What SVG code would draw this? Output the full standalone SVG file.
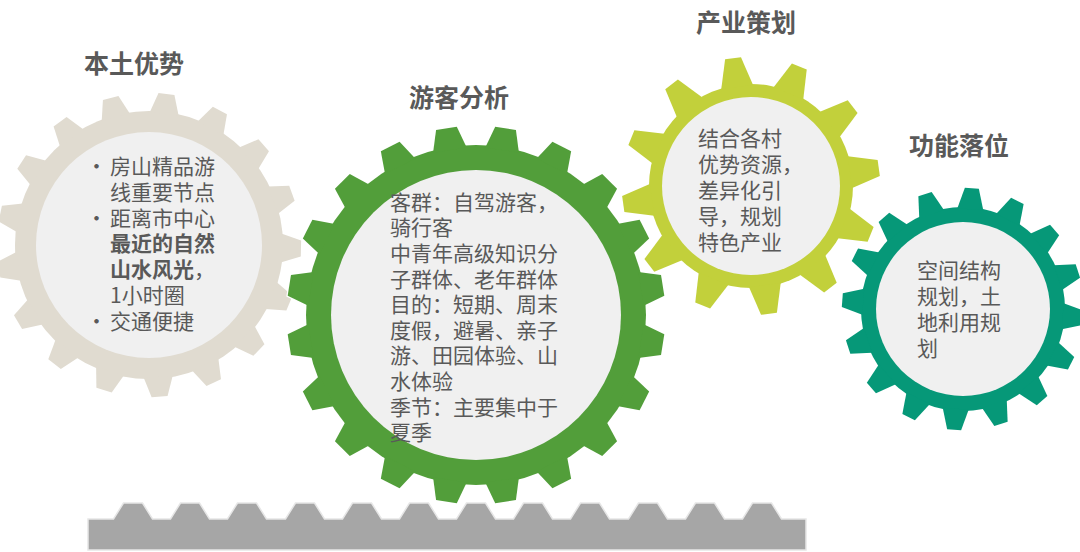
<svg xmlns="http://www.w3.org/2000/svg" xmlns:xlink="http://www.w3.org/1999/xlink" width="1080" height="552" viewBox="0 0 1080 552">
<style>
.title{font-family:"Noto Sans CJK SC","Noto Sans",sans-serif;font-weight:700;font-size:25px;fill:#595959}
.body{font-family:"Noto Sans CJK SC","Noto Sans",sans-serif;font-size:21px;fill:#595959}
.b{font-weight:700}
.hub{fill:#F0F0F0}
.outline{stroke:#FFFFFF;stroke-width:2.5}
</style>
<defs>
<polygon id="tB" points="-14.5,-132 -8,-152 8,-152 14.5,-132"/>
<polygon id="tG" points="-17,-167 -10.5,-189 10.5,-189 17,-167"/>
<polygon id="tY" points="-16,-100 -8,-129 8,-129 16,-100"/>
<polygon id="tT" points="-13,-100 -7,-121 7,-121 13,-100"/>
<g id="gearB">
<circle r="134"/>
<use xlink:href="#tB" transform="rotate(6.6)"/><use xlink:href="#tB" transform="rotate(27.8)"/><use xlink:href="#tB" transform="rotate(49)"/><use xlink:href="#tB" transform="rotate(70.1)"/><use xlink:href="#tB" transform="rotate(91.3)"/><use xlink:href="#tB" transform="rotate(112.5)"/><use xlink:href="#tB" transform="rotate(133.7)"/><use xlink:href="#tB" transform="rotate(154.8)"/><use xlink:href="#tB" transform="rotate(176)"/><use xlink:href="#tB" transform="rotate(197.2)"/><use xlink:href="#tB" transform="rotate(218.4)"/><use xlink:href="#tB" transform="rotate(239.5)"/><use xlink:href="#tB" transform="rotate(260.7)"/><use xlink:href="#tB" transform="rotate(281.9)"/><use xlink:href="#tB" transform="rotate(303.1)"/><use xlink:href="#tB" transform="rotate(324.2)"/><use xlink:href="#tB" transform="rotate(345.4)"/>
</g>
<g id="gearG">
<circle r="170"/>
<use xlink:href="#tG" transform="rotate(9)"/><use xlink:href="#tG" transform="rotate(27)"/><use xlink:href="#tG" transform="rotate(45)"/><use xlink:href="#tG" transform="rotate(63)"/><use xlink:href="#tG" transform="rotate(81)"/><use xlink:href="#tG" transform="rotate(99)"/><use xlink:href="#tG" transform="rotate(117)"/><use xlink:href="#tG" transform="rotate(135)"/><use xlink:href="#tG" transform="rotate(153)"/><use xlink:href="#tG" transform="rotate(171)"/><use xlink:href="#tG" transform="rotate(189)"/><use xlink:href="#tG" transform="rotate(207)"/><use xlink:href="#tG" transform="rotate(225)"/><use xlink:href="#tG" transform="rotate(243)"/><use xlink:href="#tG" transform="rotate(261)"/><use xlink:href="#tG" transform="rotate(279)"/><use xlink:href="#tG" transform="rotate(297)"/><use xlink:href="#tG" transform="rotate(315)"/><use xlink:href="#tG" transform="rotate(333)"/><use xlink:href="#tG" transform="rotate(351)"/>
</g>
<g id="gearY">
<circle r="102"/>
<use xlink:href="#tY" transform="rotate(22)"/><use xlink:href="#tY" transform="rotate(52)"/><use xlink:href="#tY" transform="rotate(82)"/><use xlink:href="#tY" transform="rotate(112)"/><use xlink:href="#tY" transform="rotate(142)"/><use xlink:href="#tY" transform="rotate(172)"/><use xlink:href="#tY" transform="rotate(202)"/><use xlink:href="#tY" transform="rotate(232)"/><use xlink:href="#tY" transform="rotate(262)"/><use xlink:href="#tY" transform="rotate(292)"/><use xlink:href="#tY" transform="rotate(322)"/><use xlink:href="#tY" transform="rotate(352)"/>
</g>
<g id="gearT">
<circle r="102"/>
<use xlink:href="#tT" transform="rotate(4.2)"/><use xlink:href="#tT" transform="rotate(26.7)"/><use xlink:href="#tT" transform="rotate(49.2)"/><use xlink:href="#tT" transform="rotate(71.7)"/><use xlink:href="#tT" transform="rotate(94.2)"/><use xlink:href="#tT" transform="rotate(116.7)"/><use xlink:href="#tT" transform="rotate(139.2)"/><use xlink:href="#tT" transform="rotate(161.7)"/><use xlink:href="#tT" transform="rotate(184.2)"/><use xlink:href="#tT" transform="rotate(206.7)"/><use xlink:href="#tT" transform="rotate(229.2)"/><use xlink:href="#tT" transform="rotate(251.7)"/><use xlink:href="#tT" transform="rotate(274.2)"/><use xlink:href="#tT" transform="rotate(296.7)"/><use xlink:href="#tT" transform="rotate(319.2)"/><use xlink:href="#tT" transform="rotate(341.7)"/>
</g>
</defs>
<rect width="1080" height="552" fill="#FFFFFF"/>

<g id="rack">
<path fill="#A6A6A6" stroke="#E6E6E6" stroke-width="1.5" d="M88,550 L88,519 L113.5,519 L123.5,503 L142.5,503 L152.5,519 L170.5,519 L180.5,503 L199.5,503 L209.5,519 L227.5,519 L237.5,503 L256.5,503 L266.5,519 L285.5,519 L295.5,503 L314.5,503 L324.5,519 L342.5,519 L352.5,503 L371.5,503 L381.5,519 L399.5,519 L409.5,503 L428.5,503 L438.5,519 L456.5,519 L466.5,503 L485.5,503 L495.5,519 L513.5,519 L523.5,503 L542.5,503 L552.5,519 L570.5,519 L580.5,503 L599.5,503 L609.5,519 L628.5,519 L638.5,503 L657.5,503 L667.5,519 L685.5,519 L695.5,503 L714.5,503 L724.5,519 L742.5,519 L752.5,503 L771.5,503 L781.5,519 L806,519 L806,550 Z"/>
</g>

<g id="node-local">
<g transform="translate(149,245)">
<use xlink:href="#gearB" class="outline" fill="#E0DBD0"/>
<use xlink:href="#gearB" fill="#E0DBD0"/>
<circle r="113" class="hub"/>
</g>
<text class="title" x="84" y="72.5">本土优势</text>
<text class="body" x="86" y="174">•</text>
<text class="body" x="110" y="174">房山精品游</text>
<text class="body" x="110" y="199.8">线重要节点</text>
<text class="body" x="86" y="225.6">•</text>
<text class="body" x="110" y="225.6">距离市中心</text>
<text class="body b" x="110" y="251.4">最近的自然</text>
<text class="body" x="110" y="277.2"><tspan class="b">山水风光</tspan>，</text>
<text class="body" x="110" y="303">1小时圈</text>
<text class="body" x="86" y="328.8">•</text>
<text class="body" x="110" y="328.8">交通便捷</text>
</g>

<g id="node-visitor">
<g transform="translate(476,315)">
<use xlink:href="#gearG" class="outline" fill="#529E3A"/>
<use xlink:href="#gearG" fill="#529E3A"/>
<circle r="145" class="hub"/>
</g>
<text class="title" x="409" y="106.5">游客分析</text>
<text class="body" x="390" y="209.7">客群：自驾游客，</text>
<text class="body" x="390" y="235.3">骑行客</text>
<text class="body" x="390" y="260.9">中青年高级知识分</text>
<text class="body" x="390" y="286.5">子群体、老年群体</text>
<text class="body" x="390" y="312.1">目的：短期、周末</text>
<text class="body" x="390" y="337.7">度假，避暑、亲子</text>
<text class="body" x="390" y="363.3">游、田园体验、山</text>
<text class="body" x="390" y="388.9">水体验</text>
<text class="body" x="390" y="414.5">季节：主要集中于</text>
<text class="body" x="390" y="440.1">夏季</text>
</g>

<g id="node-industry">
<g transform="translate(751,186)">
<use xlink:href="#gearY" class="outline" fill="#C2D03B"/>
<use xlink:href="#gearY" fill="#C2D03B"/>
<circle r="89" class="hub"/>
</g>
<text class="title" x="696" y="31.5">产业策划</text>
<text class="body" x="698" y="146">结合各村</text>
<text class="body" x="698" y="172">优势资源，</text>
<text class="body" x="698" y="198">差异化引</text>
<text class="body" x="698" y="224">导，规划</text>
<text class="body" x="698" y="250">特色产业</text>
</g>

<g id="node-function">
<g transform="translate(963,309)">
<use xlink:href="#gearT" class="outline" fill="#069878"/>
<use xlink:href="#gearT" fill="#069878"/>
<circle r="87" class="hub"/>
</g>
<text class="title" x="909" y="154.5">功能落位</text>
<text class="body" x="917" y="278">空间结构</text>
<text class="body" x="917" y="304">规划，土</text>
<text class="body" x="917" y="330">地利用规</text>
<text class="body" x="917" y="356">划</text>
</g>

<g id="connectors"></g>
</svg>
